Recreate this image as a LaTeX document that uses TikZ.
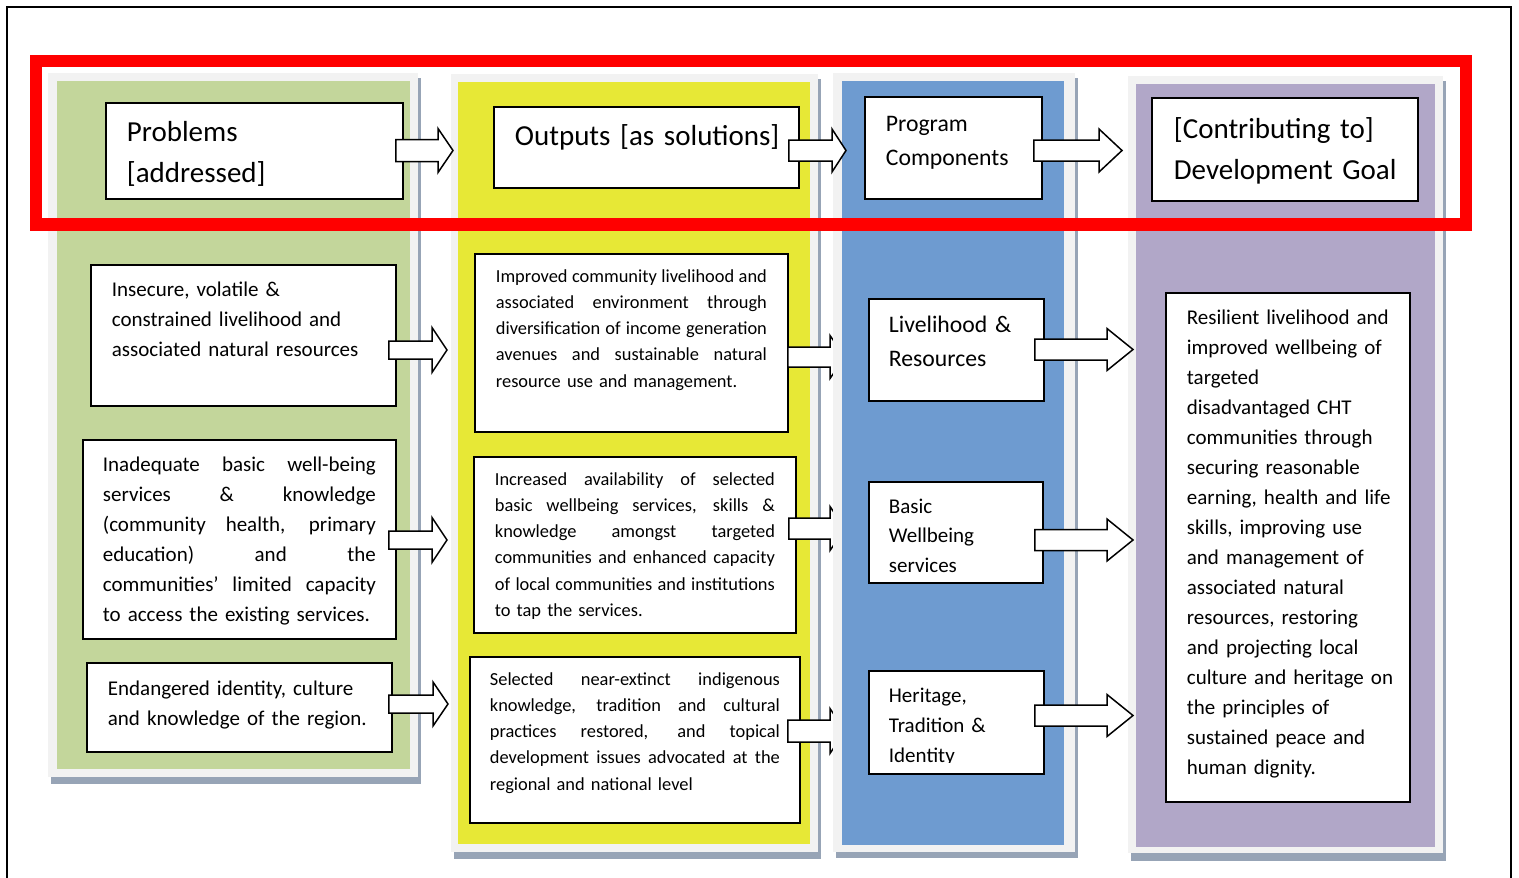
\documentclass[tikz,border=0pt]{standalone}
\usepackage{fontspec}
\setmainfont{Carlito}
\usetikzlibrary{calc}

\definecolor{colgreen}{HTML}{C3D69B}
\definecolor{colyellow}{HTML}{E7E836}
\definecolor{colblue}{HTML}{6E9BD0}
\definecolor{colpurple}{HTML}{B1A7C8}
\definecolor{framegray}{HTML}{F2F2F2}
\definecolor{shadowgray}{HTML}{97A4B6}
\definecolor{alertred}{HTML}{FF0000}

% one justified line / one unbreakable line
\newcommand{\jl}[1]{\leavevmode\hbox to \hsize{\spaceskip=0.226em plus 1fil\relax #1}}
\newcommand{\ml}[1]{\mbox{#1}}

\tikzset{
  ba shaft/.store in=\bashaft, ba head/.store in=\bahead, ba len/.store in=\balen,
  ba shaft=10pt, ba head=22pt, ba len=15pt,
  blockarrow/.style={draw=black, line width=1.5pt, fill=white, line join=miter,
    to path={let \p1=(\tikztostart), \p2=(\tikztotarget) in
      (\x1,\y1+\bashaft) -- (\x2-\balen,\y1+\bashaft) -- (\x2-\balen,\y1+\bahead)
      -- (\x2,\y1) -- (\x2-\balen,\y1-\bahead) -- (\x2-\balen,\y1-\bashaft)
      -- (\x1,\y1-\bashaft) -- cycle}},
  box/.style={draw=black, line width=1.8pt, fill=white, inner ysep=0pt,
    anchor=base west, align=left},
  headfont/.style={font=\fontsize{29}{41}\selectfont},
  midfont/.style={font=\fontsize{23.7}{34}\selectfont},
  bodyfont/.style={font=\fontsize{21}{30}\selectfont},
  smallfont/.style={font=\fontsize{18.4}{26.3}\selectfont},
}

\begin{document}
\begin{tikzpicture}[x=1pt,y=-1pt]
\useasboundingbox (0,0) rectangle (1519,878);
\clip (0,0) rectangle (1519,878);

% page frame
\draw[line width=2pt] (7,900) -- (7,7) -- (1511,7) -- (1511,900);

% columns 1 and 2
\fill[shadowgray] (51,78) rectangle (421,784);
\fill[framegray] (48,73) rectangle (418,777);
\fill[colgreen] (57,81) rectangle (410,769);

\fill[shadowgray] (454,79) rectangle (821,859);
\fill[framegray] (451,74) rectangle (818,852);
\fill[colyellow] (458,82) rectangle (810,844);

% outputs column boxes
\node[box, headfont, inner xsep=21pt, text width=263pt, text height=38pt, text depth=43pt]
  (ho) at (493,145) {\ml{Outputs [as solutions]}};
\node[box, smallfont, inner xsep=21pt, text width=271pt, text height=28pt, text depth=150pt]
  (o1) at (474,282) {\jl{Improved community livelihood and}\\
  \jl{associated environment through}\\
  \jl{diversification of income generation}\\
  \jl{avenues and sustainable natural}\\
  \ml{resource use and management.}};
\node[box, smallfont, inner xsep=21pt, text width=280pt, text height=28pt, text depth=148pt]
  (o2) at (473,485) {\jl{Increased availability of selected}\\
  \jl{basic wellbeing services, skills \&}\\
  \jl{knowledge amongst targeted}\\
  \jl{communities and enhanced capacity}\\
  \jl{of local communities and institutions}\\
  \ml{to tap the services.}};
\node[box, smallfont, inner xsep=20pt, text width=290pt, text height=28pt, text depth=138pt]
  (o3) at (469,685) {\jl{Selected near-extinct indigenous}\\
  \jl{knowledge, tradition and cultural}\\
  \jl{practices restored, and topical}\\
  \jl{development issues advocated at the}\\
  \ml{regional and national level}};

% arrows from outputs into the components column (partly hidden by it)
\coordinate (tipS1) at (845,357);
\coordinate (tipS2) at (845,528.5);
\coordinate (tipS3) at (845,731);
\draw[blockarrow, ba shaft=10pt, ba head=21.5pt] ($(o1.east |- tipS1)+(-1,0)$) to (tipS1);
\draw[blockarrow, ba shaft=10.5pt, ba head=22pt] ($(o2.east |- tipS2)+(-8,0)$) to (tipS2);
\draw[blockarrow, ba shaft=11pt, ba head=22.5pt] ($(o3.east |- tipS3)+(-13,0)$) to (tipS3);

% columns 3 and 4
\fill[shadowgray] (836,78) rectangle (1078,858);
\fill[framegray] (833,73) rectangle (1075,852);
\fill[colblue] (842,81) rectangle (1064,845);

\fill[shadowgray] (1131,81) rectangle (1446,861);
\fill[framegray] (1128,76) rectangle (1443,853);
\fill[colpurple] (1136,84) rectangle (1435,847);

% problems column boxes
\node[box, headfont, inner xsep=21pt, text width=255pt, text height=38.5pt, text depth=57.5pt]
  (hp) at (105,141.5) {\ml{Problems}\\\ml{[addressed]}};
\node[box, bodyfont, inner xsep=21pt, text width=263pt, text height=31pt, text depth=110pt]
  (p1) at (90,296) {\ml{Insecure, volatile \&}\\
  \ml{constrained livelihood and}\\
  \ml{associated natural resources}};
\node[box, bodyfont, inner xsep=20pt, text width=273pt, text height=31pt, text depth=168pt]
  (p2) at (82,471) {\jl{Inadequate basic well-being}\\
  \jl{services \& knowledge}\\
  \jl{(community health, primary}\\
  \jl{education) and the}\\
  \jl{communities’ limited capacity}\\
  \ml{to access the existing services.}};
\node[box, bodyfont, inner xsep=21pt, text width=263pt, text height=32pt, text depth=57pt]
  (p3) at (86,695) {\ml{Endangered identity, culture}\\
  \ml{and knowledge of the region.}};

% program components boxes
\node[box, midfont, inner xsep=21pt, text width=135pt, text height=34pt, text depth=68pt]
  (hc) at (864,131) {\ml{Program}\\\ml{Components}};
\node[box, midfont, inner xsep=20pt, text width=135pt, text height=33pt, text depth=69pt]
  (c1) at (868,332) {\ml{Livelihood \&}\\\ml{Resources}};
\node[box, font=\fontsize{21}{29.5}\selectfont, inner xsep=20pt, text width=134pt, text height=31pt, text depth=70pt]
  (c2) at (868,513) {\ml{Basic}\\\ml{Wellbeing}\\\ml{services}};
\node[box, bodyfont, inner xsep=20pt, text width=135pt, text height=31pt, text depth=72pt]
  (c3) at (868,702) {\ml{Heritage,}\\\ml{Tradition \&}\\\ml{Identity}};
% the last line of this box is cut off at the text area
\fill[white] (870,763.2) rectangle (1041,772.8);

% development goal boxes
\node[box, headfont, inner xsep=22pt, text width=222pt, text height=40pt, text depth=63pt]
  (hg) at (1151,138) {\ml{[Contributing to]}\\\ml{Development Goal}};
\node[box, bodyfont, inner xsep=21pt, text width=202pt, text height=31pt, text depth=478pt]
  (g1) at (1165,324) {\ml{Resilient livelihood and}\\
  \ml{improved wellbeing of}\\
  \ml{targeted}\\
  \ml{disadvantaged CHT}\\
  \ml{communities through}\\
  \ml{securing reasonable}\\
  \ml{earning, health and life}\\
  \ml{skills, improving use}\\
  \ml{and management of}\\
  \ml{associated natural}\\
  \ml{resources, restoring}\\
  \ml{and projecting local}\\
  \ml{culture and heritage on}\\
  \ml{the principles of}\\
  \ml{sustained peace and}\\
  \ml{human dignity.}};

% header arrows
\coordinate (tipH1) at (453,150.5);
\coordinate (tipH2) at (846,150.5);
\coordinate (tipH3) at (1122,150.5);
\draw[blockarrow, ba shaft=11pt, ba head=22pt, ba len=15pt] ($(hp.east |- tipH1)+(-8,0)$) to (tipH1);
\draw[blockarrow, ba shaft=10.5pt, ba head=21.5pt, ba len=14pt] ($(ho.east |- tipH2)+(-11,0)$) to (tipH2);
\draw[blockarrow, ba shaft=10.5pt, ba head=21.5pt, ba len=23pt] ($(hc.east |- tipH3)+(-9,0)$) to (tipH3);

% problems -> outputs
\coordinate (tipR1) at (447,350);
\coordinate (tipR2) at (447,540);
\coordinate (tipR3) at (448,704);
\draw[blockarrow, ba shaft=9pt, ba head=22.5pt, ba len=15pt] ($(p1.east |- tipR1)+(-8,0)$) to (tipR1);
\draw[blockarrow, ba shaft=9pt, ba head=22.5pt, ba len=15pt] ($(p2.east |- tipR2)+(-8,0)$) to (tipR2);
\draw[blockarrow, ba shaft=9pt, ba head=22pt, ba len=15pt] ($(p3.east |- tipR3)+(-4,0)$) to (tipR3);

% components -> goal
\coordinate (tipG1) at (1133,349.5);
\coordinate (tipG2) at (1133,540);
\coordinate (tipG3) at (1133,715.5);
\draw[blockarrow, ba shaft=10.5pt, ba head=21pt, ba len=26pt] ($(c1.east |- tipG1)+(-10,0)$) to (tipG1);
\draw[blockarrow, ba shaft=10.5pt, ba head=21pt, ba len=26pt] ($(c2.east |- tipG2)+(-9,0)$) to (tipG2);
\draw[blockarrow, ba shaft=10.5pt, ba head=21pt, ba len=26pt] ($(c3.east |- tipG3)+(-10,0)$) to (tipG3);

% highlight around the header row
\draw[alertred, line width=12.5pt] (36,61.2) rectangle (1466,224.5);
\end{tikzpicture}
\end{document}
